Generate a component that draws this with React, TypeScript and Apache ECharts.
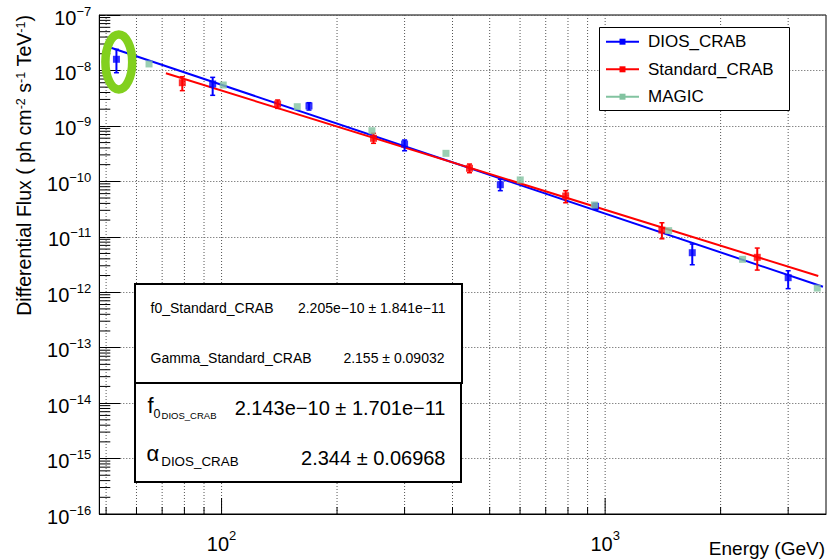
import React, { useEffect, useRef } from "react";
import * as echarts from "echarts";

const X_MIN = 48;
const X_MAX = 3765;
const Y_MIN = 1e-16;
const Y_MAX = 1e-7;

const diosEnergy = [53.2, 94.8, 169, 300, 533, 944, 1687, 3000];
const diosFlux = [1.59e-8, 5.69e-9, 2.29e-9, 4.71e-10, 8.69e-11, 3.55e-11, 5.16e-12, 1.83e-12];
const diosFluxHigh = [2.4e-8, 7.51e-9, 2.62e-9, 5.56e-10, 1.09e-10, 4.0e-11, 7.4e-12, 2.44e-12];
const diosFluxLow = [9.1e-9, 3.56e-9, 1.93e-9, 3.56e-10, 6.78e-11, 3.13e-11, 3.13e-12, 1.16e-12];

const stdEnergy = [79, 140, 249, 443, 789, 1406, 2492];
const stdFlux = [6.01e-9, 2.48e-9, 5.97e-10, 1.72e-10, 5.43e-11, 1.32e-11, 4.26e-12];
const stdFluxHigh = [7.71e-9, 2.93e-9, 7.34e-10, 2.05e-10, 6.78e-11, 1.79e-11, 6.26e-12];
const stdFluxLow = [4.32e-9, 2.07e-9, 4.85e-10, 1.43e-10, 4.11e-11, 9.2e-12, 2.51e-12];

const magicEnergy = [64.7, 101, 157.5, 246.6, 384.6, 600.7, 937.6, 1464, 2282, 3573];
const magicFlux = [1.31e-8, 5.46e-9, 2.22e-9, 8.18e-10, 3.2e-10, 1.06e-10, 3.74e-11, 1.29e-11, 3.92e-12, 1.19e-12];

const diosFitEnergy = [51.5, 3697];
const diosFitFlux = [2.57e-8, 1.256e-12];
const stdFitEnergy = [71.6, 3594];
const stdFitFlux = [8.88e-9, 1.96e-12];

const xGridTicks = [50, 60, 70, 80, 90, 100, 200, 300, 400, 500, 600, 700, 800, 900, 1000, 2000, 3000];
const xMajorTicks = [100, 1000];
const yMinorMantissas = [2, 3, 4, 5, 6, 7, 8, 9];
const yDecadeExponents = [-16, -15, -14, -13, -12, -11, -10, -9, -8];

const seriesNames = ["DIOS_CRAB", "Standard_CRAB", "MAGIC"];
const BLUE = "#0000ff";
const RED = "#ff0000";
const GREEN = "#82c3a0";
const FONT = "Liberation Sans, Arial, Helvetica, sans-serif";

const statsStdLabels = ["f0_Standard_CRAB", "Gamma_Standard_CRAB"];
const statsStdValues = ["2.205e\u221210 \u00b1 1.841e\u221211", "2.155 \u00b1 0.09032"];
const statsDiosValues = ["2.143e\u221210 \u00b1 1.701e\u221211", "2.344 \u00b1 0.06968"];

const expText = (v: number) => {
  const e = Math.round(Math.log10(v));
  return e < 0 ? "\u2212" + Math.abs(e) : String(e);
};

const errorBarRenderer = (color: string) => (params: any, api: any) => {
  const x = api.value(0);
  const lo = api.coord([x, api.value(1)]);
  const hi = api.coord([x, api.value(2)]);
  const cap = 2.5;
  return {
    type: "group",
    children: [
      { type: "line", shape: { x1: lo[0], y1: lo[1], x2: hi[0], y2: hi[1] }, style: { stroke: color, lineWidth: 2 } },
      { type: "line", shape: { x1: lo[0] - cap, y1: lo[1], x2: lo[0] + cap, y2: lo[1] }, style: { stroke: color, lineWidth: 1.5 } },
      { type: "line", shape: { x1: hi[0] - cap, y1: hi[1], x2: hi[0] + cap, y2: hi[1] }, style: { stroke: color, lineWidth: 1.5 } },
    ],
  };
};

const textEl = (text: string, x: number, y: number, size: number, align: string, extra: any = {}) => ({
  type: "text",
  x,
  y,
  z: 110,
  style: {
    text,
    fill: "#000",
    fontSize: size,
    fontFamily: FONT,
    align,
    textAlign: align,
    verticalAlign: "middle",
    textVerticalAlign: "middle",
    ...extra,
  },
});

export default function App() {
  const ref = useRef<HTMLDivElement>(null);

  useEffect(() => {
    if (!ref.current) return;
    const chart = echarts.init(ref.current, null, { renderer: "svg" });

    const yMinorData: number[][] = [];
    yDecadeExponents.forEach((e) => {
      yMinorMantissas.forEach((m) => {
        yMinorData.push([X_MIN, m * Math.pow(10, e)]);
      });
    });

    const legendRows = [41.7, 69.3, 96.7];
    const legendColors = [BLUE, RED, GREEN];

    const legendGraphics: any[] = [
      {
        type: "rect",
        z: 100,
        shape: { x: 599.5, y: 27.5, width: 190, height: 83 },
        style: { fill: "#fff", stroke: "#000", lineWidth: 1 },
      },
    ];
    seriesNames.forEach((name, i) => {
      const y = legendRows[i];
      legendGraphics.push({
        type: "line",
        z: 105,
        shape: { x1: 606, y1: y, x2: 639, y2: y },
        style: { stroke: legendColors[i], lineWidth: 2 },
      });
      legendGraphics.push({
        type: "rect",
        z: 106,
        shape: { x: 619.5, y: y - 3, width: 6, height: 6 },
        style: { fill: legendColors[i] },
      });
      legendGraphics.push(textEl(name, 648, y, 17, "left"));
    });

    const statsGraphics: any[] = [
      {
        type: "rect",
        z: 100,
        shape: { x: 135, y: 284, width: 327, height: 99 },
        style: { fill: "#fff", stroke: "#000", lineWidth: 2 },
      },
      {
        type: "rect",
        z: 101,
        shape: { x: 135, y: 383, width: 326, height: 99 },
        style: { fill: "#fff", stroke: "#000", lineWidth: 2 },
      },
      textEl(statsStdLabels[0], 150.5, 308.3, 14, "left"),
      textEl(statsStdValues[0], 445.5, 308.3, 14, "right"),
      textEl(statsStdLabels[1], 150.5, 358.3, 14, "left"),
      textEl(statsStdValues[1], 444.5, 358.3, 14, "right"),
      textEl("{f|f}{z|0}{d|DIOS_CRAB}", 147.5, 405, 22, "left", {
        rich: {
          f: { fontSize: 22, lineHeight: 30, fontFamily: FONT, fill: "#000" },
          z: { fontSize: 12.5, lineHeight: 16, verticalAlign: "bottom", fontFamily: FONT, fill: "#000", padding: [0, 0, 0, 0] },
          d: { fontSize: 9.5, lineHeight: 4, verticalAlign: "bottom", fontFamily: FONT, fill: "#000", padding: [0, 0, 0, 1] },
        },
      }),
      textEl(statsDiosValues[0], 445.5, 408.3, 20, "right"),
      textEl("{a|\u03b1}{d|DIOS_CRAB}", 146.5, 453, 22, "left", {
        rich: {
          a: { fontSize: 22, lineHeight: 30, fontFamily: FONT, fill: "#000" },
          d: { fontSize: 13.4, lineHeight: 16, verticalAlign: "bottom", fontFamily: FONT, fill: "#000", padding: [0, 0, 0, 2] },
        },
      }),
      textEl(statsDiosValues[1], 445.5, 458.3, 20, "right"),
    ];

    const option: any = {
      animation: false,
      textStyle: { fontFamily: FONT },
      grid: {
        left: 99.3,
        right: 1,
        top: 15,
        bottom: 45,
        show: true,
        borderColor: "#000",
        borderWidth: 1,
        containLabel: false,
      },
      xAxis: {
        type: "log",
        logBase: 10,
        min: X_MIN,
        max: X_MAX,
        axisLine: { show: true, lineStyle: { color: "#000", width: 1 } },
        axisTick: { show: false },
        splitLine: { show: false },
        axisLabel: {
          showMinLabel: false,
          showMaxLabel: false,
          margin: 15,
          formatter: (v: number) => `{b|10}{s|${expText(v)}}`,
          rich: {
            b: { fontSize: 20, lineHeight: 30, fontFamily: FONT, color: "#000" },
            s: { fontSize: 13, lineHeight: 12, verticalAlign: "top", fontFamily: FONT, color: "#000" },
          },
        },
      },
      yAxis: {
        type: "log",
        logBase: 10,
        min: Y_MIN,
        max: Y_MAX,
        splitNumber: 9,
        axisLine: { show: true, lineStyle: { color: "#000", width: 1 } },
        axisTick: { show: true, inside: true, length: 21, lineStyle: { color: "#000", width: 1 } },
        splitLine: { show: true, lineStyle: { color: "#555", width: 1, type: [1, 2] } },
        axisLabel: {
          margin: 8,
          padding: [5, 0, 0, 0],
          formatter: (v: number) => `{b|10}{s|${expText(v)}}`,
          rich: {
            b: { fontSize: 20, lineHeight: 26, fontFamily: FONT, color: "#000" },
            s: { fontSize: 13, lineHeight: 14, verticalAlign: "top", fontFamily: FONT, color: "#000" },
          },
        },
      },
      graphic: [
        {
          type: "text",
          x: 24,
          y: 15,
          rotation: Math.PI / 2,
          z: 110,
          style: {
            text: "Differential Flux ( ph cm{s|-2} s{s|-1} TeV{s|-1})",
            fill: "#000",
            fontSize: 19.6,
            fontFamily: FONT,
            align: "right",
            textAlign: "right",
            verticalAlign: "middle",
            textVerticalAlign: "middle",
            rich: {
              s: { fontSize: 12.5, lineHeight: 12, verticalAlign: "top", fontFamily: FONT, fill: "#000" },
            },
          },
        },
        textEl("Energy (GeV)", 825, 548, 19, "right"),
        ...legendGraphics,
        ...statsGraphics,
        {
          type: "ellipse",
          z: 120,
          shape: { cx: 118.8, cy: 62, rx: 13.4, ry: 27.5 },
          style: { fill: "none", stroke: "#82d01e", lineWidth: 8.5 },
        },
      ],
      series: [
        {
          type: "custom",
          name: "xgrid",
          silent: true,
          z: 1,
          data: xGridTicks.map((v) => [v, Y_MIN]),
          renderItem: (params: any, api: any) => {
            const v = api.value(0);
            const b = api.coord([v, Y_MIN]);
            const t = api.coord([v, Y_MAX]);
            const major = xMajorTicks.indexOf(v) >= 0;
            return {
              type: "group",
              children: [
                { type: "line", shape: { x1: b[0], y1: b[1], x2: t[0], y2: t[1] }, style: { stroke: "#555", lineWidth: 1, lineDash: [1, 2] } },
                { type: "line", shape: { x1: b[0], y1: b[1], x2: b[0], y2: b[1] - (major ? 16 : 7) }, style: { stroke: "#000", lineWidth: 1 } },
              ],
            };
          },
        },
        {
          type: "custom",
          name: "yminor",
          silent: true,
          z: 1,
          data: yMinorData,
          renderItem: (params: any, api: any) => {
            const p = api.coord([X_MIN, api.value(1)]);
            return {
              type: "line",
              shape: { x1: p[0], y1: p[1], x2: p[0] + 11, y2: p[1] },
              style: { stroke: "#000", lineWidth: 1 },
            };
          },
        },
        {
          type: "line",
          name: "DIOS_CRAB fit",
          z: 3,
          showSymbol: false,
          data: diosFitEnergy.map((e, i) => [e, diosFitFlux[i]]),
          lineStyle: { color: BLUE, width: 2 },
        },
        {
          type: "line",
          name: "Standard_CRAB fit",
          z: 4,
          showSymbol: false,
          data: stdFitEnergy.map((e, i) => [e, stdFitFlux[i]]),
          lineStyle: { color: RED, width: 2 },
        },
        {
          type: "custom",
          name: "DIOS_CRAB err",
          z: 5,
          encode: { x: 0, y: [1, 2] },
          data: diosEnergy.map((e, i) => [e, diosFluxLow[i], diosFluxHigh[i]]),
          renderItem: errorBarRenderer(BLUE),
        },
        {
          type: "scatter",
          name: seriesNames[0],
          z: 6,
          symbol: "rect",
          symbolSize: 7,
          itemStyle: { color: BLUE },
          data: diosEnergy.map((e, i) => [e, diosFlux[i]]),
        },
        {
          type: "custom",
          name: "Standard_CRAB err",
          z: 7,
          encode: { x: 0, y: [1, 2] },
          data: stdEnergy.map((e, i) => [e, stdFluxLow[i], stdFluxHigh[i]]),
          renderItem: errorBarRenderer(RED),
        },
        {
          type: "scatter",
          name: seriesNames[1],
          z: 8,
          symbol: "rect",
          symbolSize: 7,
          itemStyle: { color: RED },
          data: stdEnergy.map((e, i) => [e, stdFlux[i]]),
        },
        {
          type: "scatter",
          name: seriesNames[2],
          z: 9,
          symbol: "rect",
          symbolSize: 7,
          itemStyle: { color: GREEN },
          data: magicEnergy.map((e, i) => [e, magicFlux[i]]),
        },
      ],
    };

    chart.setOption(option);
    return () => chart.dispose();
  }, []);

  return (
    <div
      ref={ref}
      style={{ position: "fixed", left: 0, top: 0, width: 827, height: 559, background: "#fff" }}
    />
  );
}
